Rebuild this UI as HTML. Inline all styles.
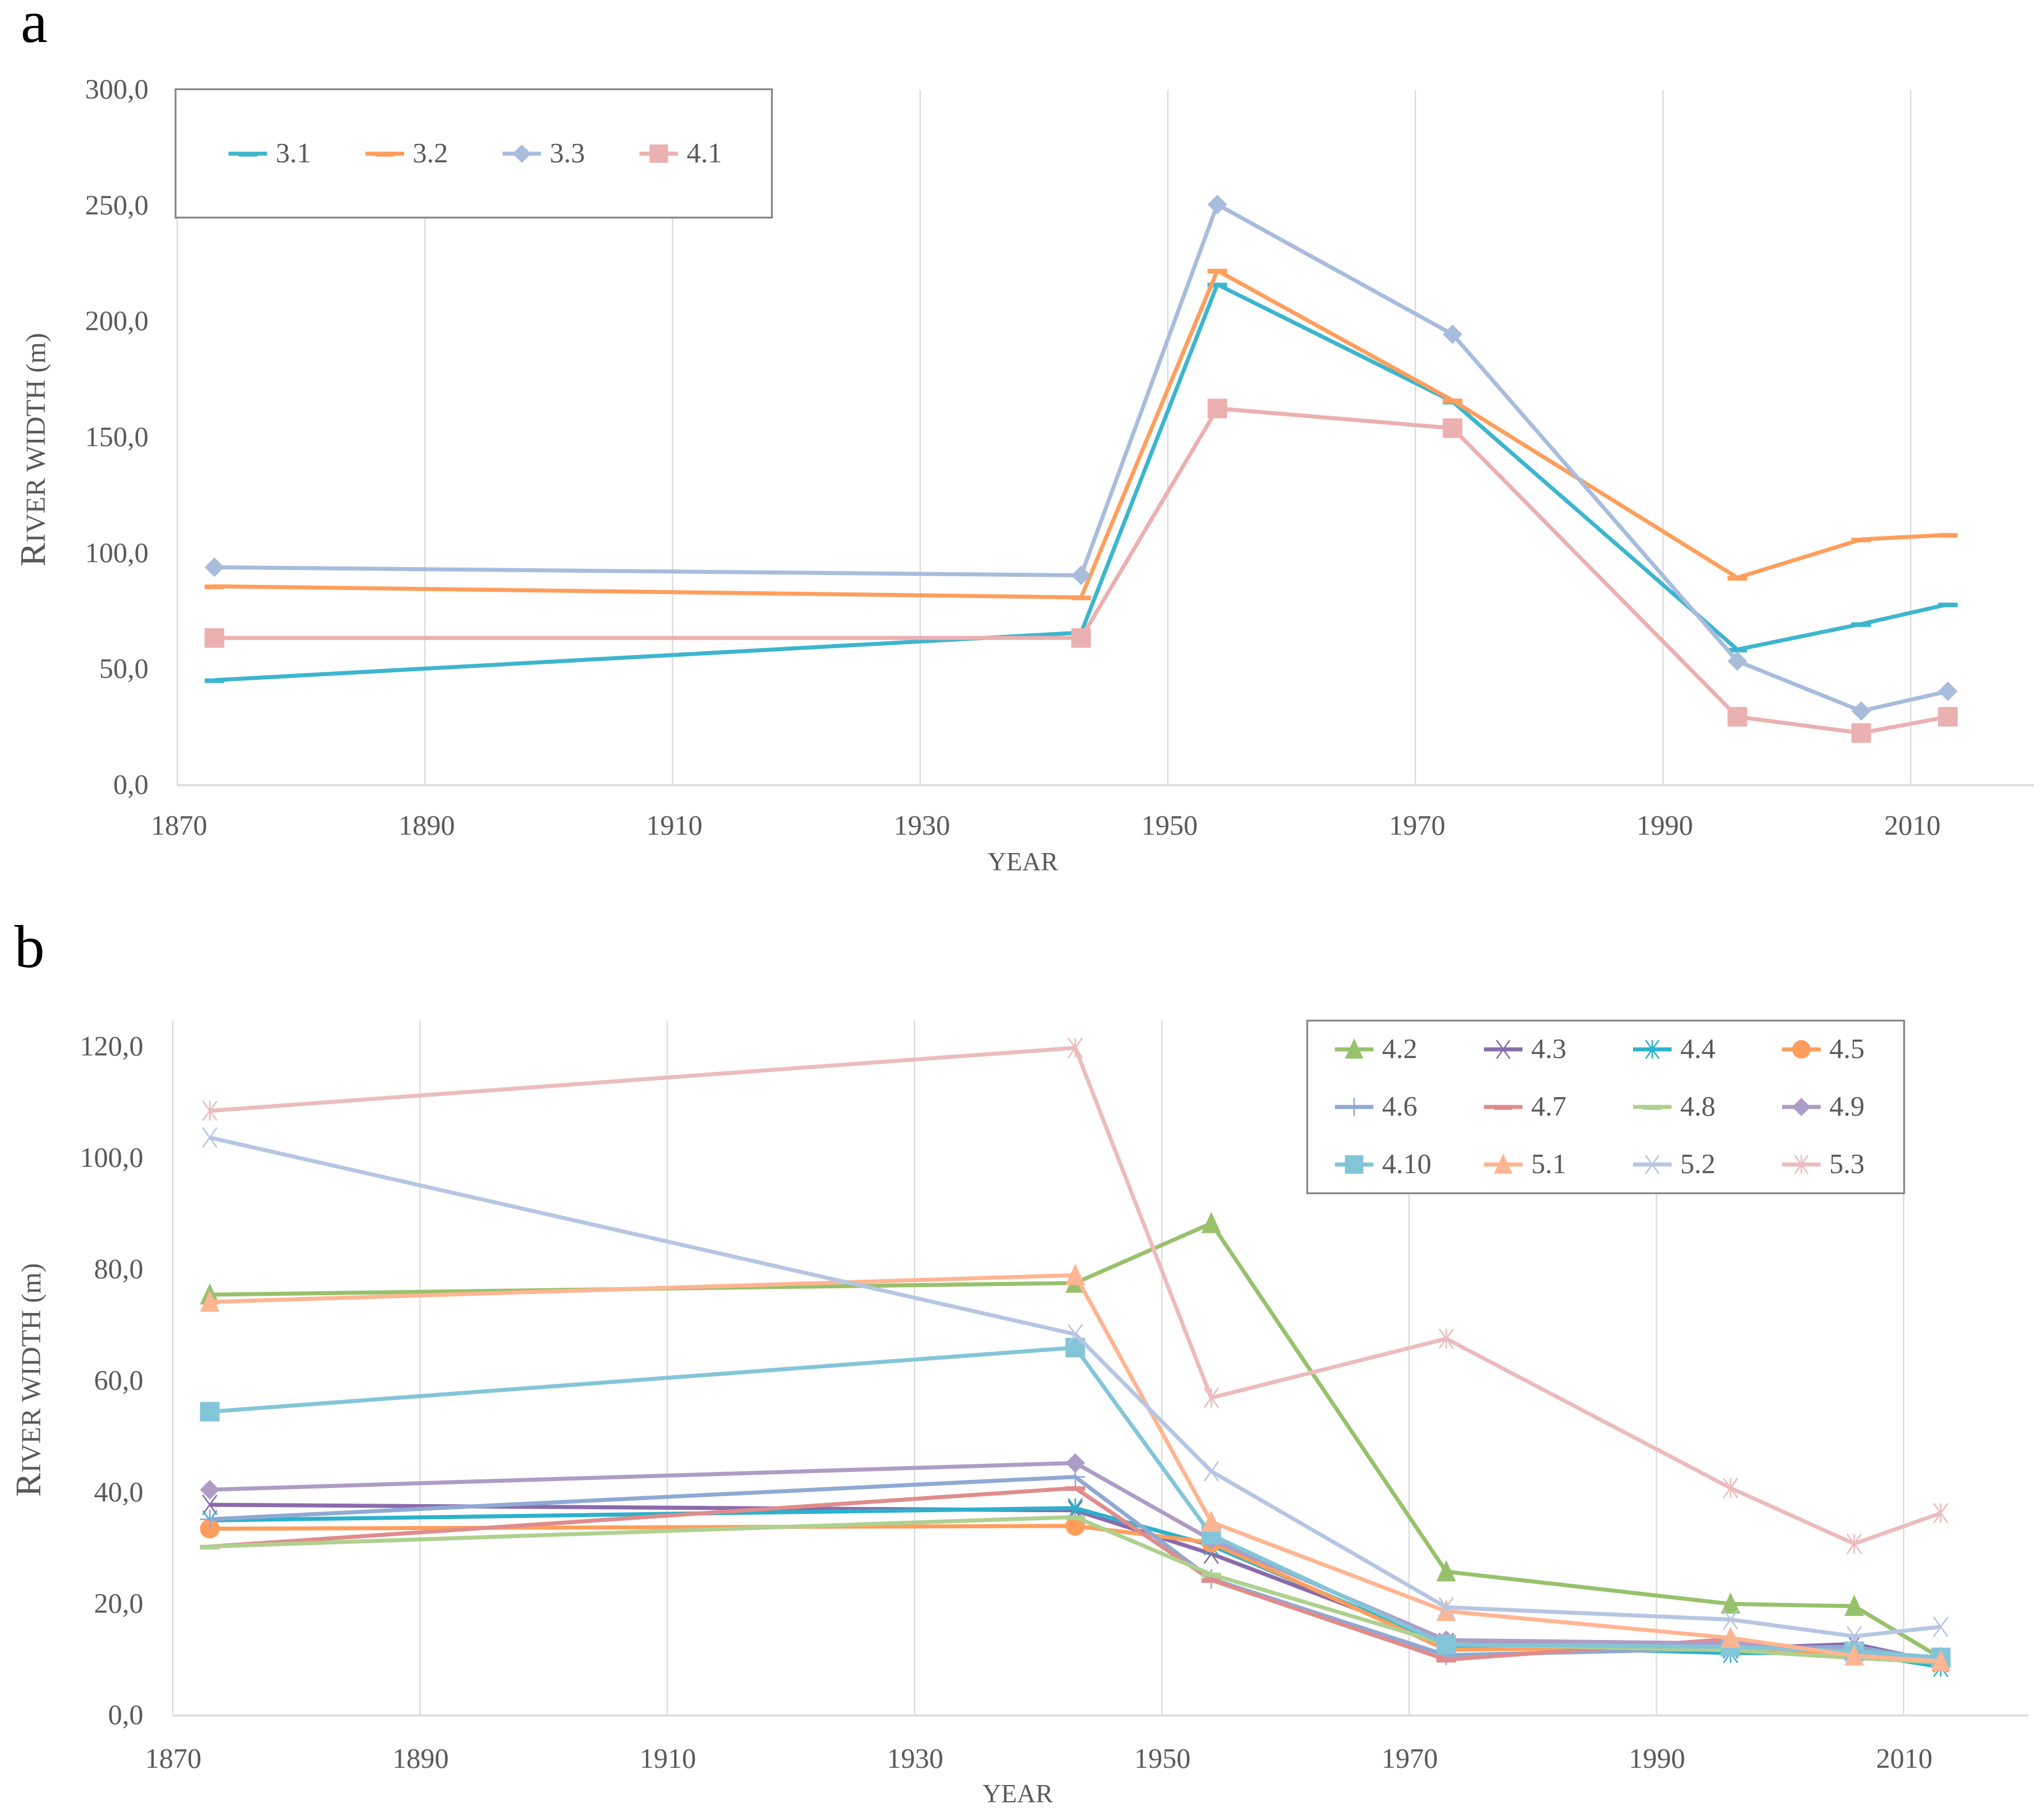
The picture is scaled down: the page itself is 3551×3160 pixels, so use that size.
<!DOCTYPE html>
<html lang="en">
<head>
<meta charset="utf-8">
<title>River width by year</title>
<style>
html,body{margin:0;padding:0;background:#fff;}
svg{display:block;}
text{font-family:"Liberation Serif",serif;fill:#595959;}
</style>
</head>
<body>
<svg id="fig" xmlns="http://www.w3.org/2000/svg" width="3551" height="3160" viewBox="0 0 3551 3160">
<rect width="3551" height="3160" fill="#ffffff"/>
</svg>
<script>
/* ---- shared data ---- */
const years = [1873, 1943, 1954, 1973, 1996, 2006, 2013];
const xTicks = [1870, 1890, 1910, 1930, 1950, 1970, 1990, 2010];

/* ---- panel a data ---- */
const yTickValuesA = [0, 50, 100, 150, 200, 250, 300];
const yTickLabelsA = ['0,0', '50,0', '100,0', '150,0', '200,0', '250,0', '300,0'];
const namesA = ['3.1', '3.2', '3.3', '4.1'];
const s3_1 = [45.3, 65.8, 216, 165.5, 58.5, 69.5, 78];
const s3_2 = [85.8, 81, 222, 166, 89.5, 106, 108];
const s3_3 = [94, 90.5, 250.5, 194.5, 53.5, 32, 40.5];
const s4_1 = [63.5, 63.5, 162.5, 154, 29.5, 22.5, 29.5];

/* ---- panel b data ---- */
const yTickValuesB = [0, 20, 40, 60, 80, 100, 120];
const yTickLabelsB = ['0,0', '20,0', '40,0', '60,0', '80,0', '100,0', '120,0'];
const namesB = ['4.2', '4.3', '4.4', '4.5', '4.6', '4.7', '4.8', '4.9', '4.10', '5.1', '5.2', '5.3'];
const s4_2 = [75.5, 77.6, 88.3, 25.8, 20, 19.6, 10.3];
const s4_3 = [37.8, 36.8, 29, 13, 12, 12.8, 9.5];
const s4_4 = [35, 37.2, 30.5, 12.5, 11.2, 11.2, 8.7];
const s4_5 = [33.5, 34, 31, 11.8, 12.3, 11, 9.8];
const s4_6 = [35.2, 42.8, 24.5, 10.8, 12, 12.3, 9.8];
const s4_7 = [30.3, 40.8, 24.3, 10, 13.7, 11, 10];
const s4_8 = [30.3, 35.6, 25.3, 12.8, 11.7, 10.3, 9.5];
const s4_9 = [40.5, 45.3, 31.5, 13.5, 12.9, 11.5, 10];
const s4_10 = [54.5, 66, 32.4, 12.7, 12.3, 11.5, 10.4];
const s5_1 = [74.2, 79, 34.7, 18.7, 13.9, 10.7, 9.7];
const s5_2 = [103.7, 68.4, 43.8, 19.4, 17.2, 14.2, 15.9];
const s5_3 = [108.5, 119.8, 57, 67.6, 40.8, 30.8, 36.3];

const valuesA = [s3_1, s3_2, s3_3, s4_1];
const valuesB = [s4_2, s4_3, s4_4, s4_5, s4_6, s4_7, s4_8, s4_9, s4_10, s5_1, s5_2, s5_3];

/* ---- styles ---- */
const colorsA = ['#3db5ce', '#ff9e5c', '#a8bcdc', '#ebb0b0'];
const markersA = ['dash', 'dash', 'diamond', 'square'];
const colorsB = ['#98c16b', '#8a6bab', '#2cb1cc', '#ff9e5c', '#8fa9d4', '#e08c8c', '#afd08f', '#ae9cc6', '#83c5d8', '#ffb592', '#b6c6e2', '#ecbcbc'];
const markersB = ['triangle', 'xmark', 'star', 'circle', 'plus', 'dash', 'dash', 'diamond', 'square', 'triangle', 'xmark', 'star'];

const NS = 'http://www.w3.org/2000/svg';
const fig = document.getElementById('fig');

function make(tag, attrs, parent) {
  const el = document.createElementNS(NS, tag);
  for (const k in attrs) el.setAttribute(k, attrs[k]);
  parent.appendChild(el);
  return el;
}

function drawMarker(g, kind, cx, cy, size, color) {
  const h = size / 2;
  let m;
  if (kind === 'dash') {
    m = make('rect', {x: cx - h, y: cy - 3, width: size, height: 8, fill: color}, g);
  } else if (kind === 'square') {
    m = make('rect', {x: cx - h, y: cy - h, width: size, height: size, fill: color}, g);
  } else if (kind === 'diamond') {
    m = make('polygon', {points: [cx, cy - h, cx + h, cy, cx, cy + h, cx - h, cy].join(' '), fill: color}, g);
  } else if (kind === 'triangle') {
    m = make('polygon', {points: [cx, cy - h - 3, cx + h, cy + h, cx - h, cy + h].join(' '), fill: color}, g);
  } else if (kind === 'circle') {
    m = make('circle', {cx: cx, cy: cy, r: h, fill: color}, g);
  } else {
    let d = '';
    if (kind === 'plus' || kind === 'star') d += 'M' + cx + ' ' + (cy - h) + 'V' + (cy + h);
    if (kind === 'plus') d += 'M' + (cx - h) + ' ' + cy + 'H' + (cx + h);
    if (kind === 'xmark' || kind === 'star') {
      const a = h * 0.72;
      d += 'M' + (cx - a) + ' ' + (cy - h) + 'L' + (cx + a) + ' ' + (cy + h);
      d += 'M' + (cx - a) + ' ' + (cy + h) + 'L' + (cx + a) + ' ' + (cy - h);
    }
    m = make('path', {d: d, fill: 'none', stroke: color, 'stroke-width': 2.6}, g);
  }
  return m;
}

function drawPanel(cfg) {
  const panel = make('g', {}, fig);
  
  

  const xScale = function (yr) { return cfg.x0 + (yr - 1870) * cfg.pxPerYear; };
  const yScale = function (v) { return cfg.y0 - v * cfg.pxPerUnit; };

  /* panel letter */
  const letter = make('text', {x: cfg.letterX, y: cfg.letterY, 'font-size': 105, style: 'fill:#000'}, panel);
  letter.textContent = cfg.letter;
  
  

  /* gridlines and x tick labels */
  xTicks.forEach(function (t) {
    const line = make('line', {x1: xScale(t), x2: xScale(t), y1: cfg.top, y2: cfg.y0, stroke: '#d9d9d9', 'stroke-width': 2.2}, panel);
    
    
    const lab = make('text', {x: xScale(t) + cfg.xLabelShift, y: cfg.xLabelY, 'font-size': 49, 'text-anchor': 'middle'}, panel);
    lab.textContent = String(t);
    
    
  });

  /* x axis line */
  const axis = make('line', {x1: cfg.x0, x2: cfg.axisEnd, y1: cfg.y0, y2: cfg.y0, stroke: '#dcdcdc', 'stroke-width': 3.5}, panel);
  
  

  /* y tick labels */
  cfg.yVals.forEach(function (v, i) {
    const lab = make('text', {x: cfg.yLabelX, y: yScale(v) + 15, 'font-size': 49, 'text-anchor': 'end'}, panel);
    lab.textContent = cfg.yLabs[i];
    
    
  });

  /* axis titles */
  const yt = make('text', {transform: 'translate(' + cfg.yTitleX + ' ' + cfg.yTitleBottom + ') rotate(-90)', 'font-size': 48}, panel);
  const yt1 = make('tspan', {'font-size': 62}, yt);
  yt1.textContent = 'R';
  const yt2 = make('tspan', {}, yt);
  yt2.textContent = 'IVER WIDTH (m)';
  
  

  const xt = make('text', {x: cfg.xTitleX, y: cfg.xTitleY, 'font-size': 45, 'text-anchor': 'middle'}, panel);
  xt.textContent = 'YEAR';
  
  

  /* series */
  cfg.names.forEach(function (name, i) {
    const g = make('g', {}, panel);
    
    
    const pts = cfg.values[i].map(function (v, j) { return xScale(years[j]) + ',' + yScale(v); }).join(' ');
    const line = make('polyline', {points: pts, fill: 'none', stroke: cfg.colors[i], 'stroke-width': 7, 'stroke-linejoin': 'round'}, g);
    
    
    cfg.values[i].forEach(function (v, j) {
      const m = drawMarker(g, cfg.markers[i], xScale(years[j]), yScale(v), 34, cfg.colors[i]);
      
      
    });
  });

  /* legend */
  const leg = make('g', {}, panel);
  
  
  const box = make('rect', {x: cfg.legX, y: cfg.legY, width: cfg.legW, height: cfg.legH, fill: '#ffffff', stroke: '#7f7f7f', 'stroke-width': 3}, leg);
  
  
  cfg.names.forEach(function (name, i) {
    const col = i % cfg.legCols;
    const row = Math.floor(i / cfg.legCols);
    const lx = cfg.legStartX + col * cfg.legStepX;
    const ly = cfg.legStartY + row * cfg.legStepY;
    const e = make('g', {}, leg);
    
    
    make('line', {x1: lx, x2: lx + 67, y1: ly, y2: ly, stroke: cfg.colors[i], 'stroke-width': 7}, e);
    drawMarker(e, cfg.markers[i], lx + 33.5, ly, 32, cfg.colors[i]);
    const t = make('text', {x: lx + 82, y: ly + 15, 'font-size': 49}, e);
    t.textContent = name;
  });
}

drawPanel({
  key: 'panel-a', letter: 'a', letterX: 36, letterY: 73,
  x0: 308, pxPerYear: 21.51, y0: 1364, pxPerUnit: 4.027, top: 156, axisEnd: 3533,
  xLabelY: 1450, xLabelShift: 3, yLabelX: 258, yTitleX: 78, yTitleBottom: 984, xTitleX: 1777, xTitleY: 1512,
  yVals: yTickValuesA, yLabs: yTickLabelsA, names: namesA, values: valuesA, colors: colorsA, markers: markersA,
  legX: 305, legY: 155, legW: 1036, legH: 223, legCols: 4,
  legStartX: 397, legStartY: 267, legStepX: 238, legStepY: 0
});

drawPanel({
  key: 'panel-b', letter: 'b', letterX: 25, letterY: 1680,
  x0: 300, pxPerYear: 21.48, y0: 2980, pxPerUnit: 9.68, top: 1773, axisEnd: 3524,
  xLabelY: 3071, xLabelShift: 1, yLabelX: 249, yTitleX: 70, yTitleBottom: 2600, xTitleX: 1768, xTitleY: 3131,
  yVals: yTickValuesB, yLabs: yTickLabelsB, names: namesB, values: valuesB, colors: colorsB, markers: markersB,
  legX: 2271, legY: 1773, legW: 1037, legH: 300, legCols: 4,
  legStartX: 2319, legStartY: 1823, legStepX: 259, legStepY: 100
});
</script>
</body>
</html>
